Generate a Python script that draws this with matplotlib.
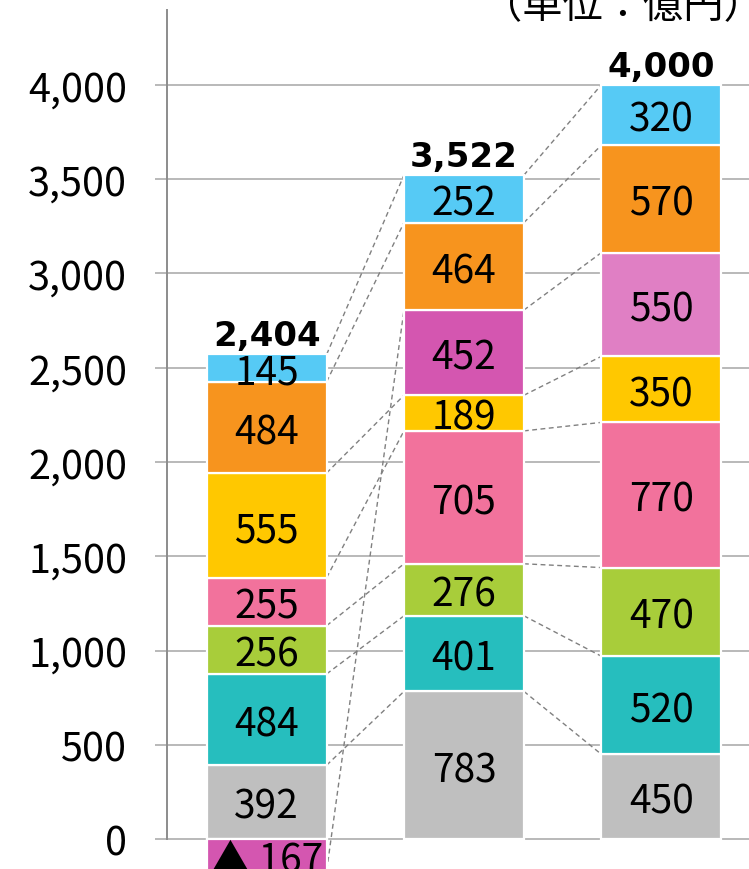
import matplotlib
matplotlib.use('Agg')
import matplotlib.pyplot as plt
import numpy as np

# ---- data ----
categories = ['1', '2', '3']
gray = [392, 783, 450]
teal = [484, 401, 520]
green = [256, 276, 470]
pink = [255, 705, 770]
yellow = [555, 189, 350]
magenta = [-167, 452, 550]
orange = [484, 464, 570]
blue = [145, 252, 320]
totals = [2404, 3522, 4000]
yticks = [0, 500, 1000, 1500, 2000, 2500, 3000, 3500, 4000]
unit_label = '（単位：億円）'

series = [gray, teal, green, pink, yellow, magenta, orange, blue]
colors = [
    ['#BFBFBF'] * 3,
    ['#26BEBE'] * 3,
    ['#A8CD3A'] * 3,
    ['#F2729C'] * 3,
    ['#FFC800'] * 3,
    ['#D456B0', '#D456B0', '#E07FC4'],
    ['#F7941E'] * 3,
    ['#56CAF5'] * 3,
]

W, H = 749, 870
fig = plt.figure(figsize=(W / 100, H / 100), dpi=100)
ax = fig.add_axes([167 / W, 0, (W - 167) / W, 1])

x = np.arange(len(categories))
bw = 0.608
pos = np.zeros(len(categories))
neg = np.zeros(len(categories))
ends = []
label_font = ['Noto Sans CJK JP', 'DejaVu Sans']
for vals, cols in zip(series, colors):
    vals = np.array(vals, dtype=float)
    bottoms = np.where(vals >= 0, pos, neg)
    ax.bar(x, vals, bottom=bottoms, width=bw, color=cols,
           edgecolor='white', linewidth=1.6, zorder=3)
    end = bottoms + vals
    for i, v in enumerate(vals):
        txt = f'▲ {int(abs(v))}' if v < 0 else f'{int(v)}'
        ax.annotate(txt, (x[i], bottoms[i] + v / 2), xytext=(0, -3.5),
                    textcoords='offset points', ha='center', va='center',
                    fontsize=28, family=label_font, color='black', zorder=5)
    pos = np.where(vals >= 0, end, pos)
    neg = np.where(vals < 0, end, neg)
    ends.append(end)

# series lines
for end in ends:
    for i in range(len(categories) - 1):
        ax.plot([x[i] + bw / 2, x[i + 1] - bw / 2], [end[i], end[i + 1]],
                color='#808080', lw=1.0, ls=(0, (3.5, 2.5)), zorder=2)

# totals
for i, t in enumerate(totals):
    ax.annotate(f'{t:,}', (x[i], pos[i]), xytext=(0, 6.5),
                textcoords='offset points', ha='center', va='baseline',
                fontsize=24.5, fontweight='bold', family='DejaVu Sans', zorder=5)

ax.set_xlim(-0.5055, 2.4451)
ax.set_ylim(-159, 4456)
ax.set_yticks(yticks)
ax.set_yticklabels([f'{v:,}' for v in yticks], family=label_font, fontsize=28.5)
ax.tick_params(axis='y', direction='out', length=8.6, width=1.1,
               color='#A6A6A6', pad=20)
ax.set_xticks([])
ax.yaxis.grid(True, color='#A6A6A6', lw=1.1)
ax.set_axisbelow(True)
for s in ['top', 'right', 'bottom']:
    ax.spines[s].set_visible(False)
ax.spines['left'].set_color('#8C8C8C')
ax.spines['left'].set_linewidth(1.4)
ax.spines['left'].set_bounds(0, 4400)

fig.text(482 / W, 1 - 18 / H, unit_label, ha='left', va='baseline',
         fontsize=29, family=label_font)

fig.savefig('out.png', dpi=100)
